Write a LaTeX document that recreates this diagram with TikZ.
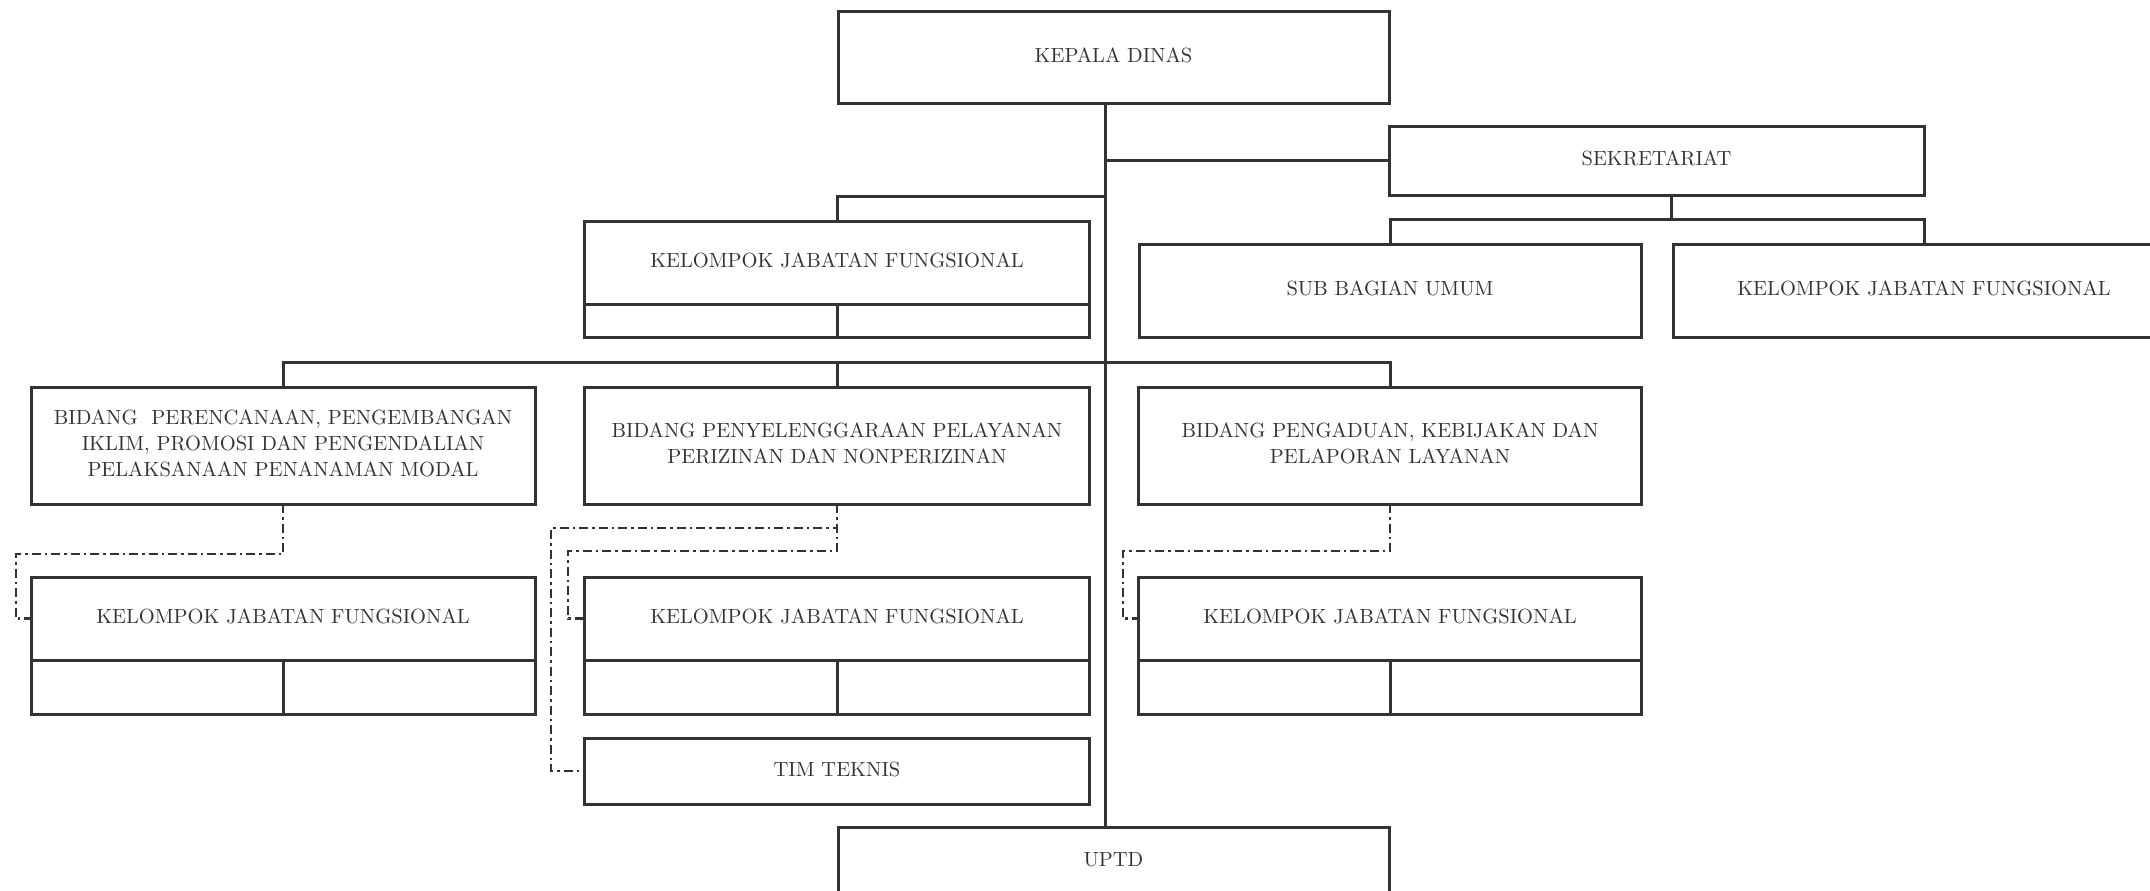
\documentclass[tikz,border=0pt]{standalone}
\definecolor{ln}{HTML}{333333}
\newcommand{\bt}[1]{\scalebox{2.05}{\fontsize{10}{12.7}\selectfont\begin{tabular}{@{}c@{}}#1\end{tabular}}}
\begin{document}
\begin{tikzpicture}[x=1pt,y=-1pt,
  box/.style={draw=ln, line width=3pt, rectangle, inner sep=0pt, outer sep=0pt,
    align=center, text=ln},
  conn/.style={draw=ln, line width=3pt},
  dd/.style={draw=ln, line width=2.8pt, dash pattern=on 9pt off 4pt on 2.5pt off 4pt}]
\useasboundingbox (0,0) rectangle (2150,891);
% top
\node[box, minimum width=551pt, minimum height=91pt] (kd) at (1113.5,57.5) {\bt{KEPALA DINAS}};
\node[box, minimum width=535pt, minimum height=69pt] (sek) at (1656.5,160.5) {\bt{SEKRETARIAT}};
\node[box, minimum width=502pt, minimum height=93pt] (sbu) at (1390,290.5) {\bt{SUB BAGIAN UMUM}};
\node[box, minimum width=502pt, minimum height=93pt] (kjfs) at (1924,290.5) {\bt{KELOMPOK JABATAN FUNGSIONAL}};
\node[box, minimum width=505pt, minimum height=83pt] (k0) at (837,262.5) {\bt{KELOMPOK JABATAN FUNGSIONAL}};
\node[box, minimum width=505pt, minimum height=33pt] (k0b) at (837,320.5) {};
% bidang
\node[box, minimum width=504pt, minimum height=117pt] (b1) at (283,445.5) {\bt{BIDANG\ \ PERENCANAAN, PENGEMBANGAN\\IKLIM, PROMOSI DAN PENGENDALIAN\\PELAKSANAAN PENANAMAN MODAL}};
\node[box, minimum width=505pt, minimum height=117pt] (b2) at (837,445.5) {\bt{BIDANG PENYELENGGARAAN PELAYANAN\\PERIZINAN DAN NONPERIZINAN}};
\node[box, minimum width=503pt, minimum height=117pt] (b3) at (1390,445.5) {\bt{BIDANG PENGADUAN, KEBIJAKAN DAN\\PELAPORAN LAYANAN}};
% kjf under bidang
\node[box, minimum width=504pt, minimum height=83pt] (k1) at (283,618.5) {\bt{KELOMPOK JABATAN FUNGSIONAL}};
\node[box, minimum width=504pt, minimum height=54pt] (k1b) at (283,687) {};
\node[box, minimum width=505pt, minimum height=83pt] (k2) at (837,618.5) {\bt{KELOMPOK JABATAN FUNGSIONAL}};
\node[box, minimum width=505pt, minimum height=54pt] (k2b) at (837,687) {};
\node[box, minimum width=503pt, minimum height=83pt] (k3) at (1390,618.5) {\bt{KELOMPOK JABATAN FUNGSIONAL}};
\node[box, minimum width=503pt, minimum height=54pt] (k3b) at (1390,687) {};
\node[box, minimum width=505pt, minimum height=66pt] (tt) at (837,771) {\bt{TIM TEKNIS}};
\node[box, minimum width=551pt, minimum height=68pt] (uptd) at (1113.5,861) {\bt{UPTD}};
% coordinates
\coordinate (tx) at (1105,0);
\coordinate (c0) at (1105,196);
\coordinate (bus) at (1105,362);
\coordinate (sbus) at (1671,219);
\coordinate (d1) at (16,554);
\coordinate (d2) at (568,551);
\coordinate (d2b) at (551,528);
\coordinate (d3) at (1123,551);
% solid connectors
\draw[conn] (kd.south -| tx) -- (uptd.north -| tx);
\draw[conn] (sek.west) -- (sek.west -| tx);
\draw[conn] (sek.south -| sbus) -- (sbus);
\draw[conn] (sbu.north) |- (sbus) -| (kjfs.north);
\draw[conn] (k0.north) |- (c0);
\draw[conn] (b1.north) |- (bus);
\draw[conn] (b2.north) -- (b2.north |- bus);
\draw[conn] (b3.north) |- (bus);
\draw[conn] (k0b.north) -- (k0b.south);
\draw[conn] (k1b.north) -- (k1b.south);
\draw[conn] (k2b.north) -- (k2b.south);
\draw[conn] (k3b.north) -- (k3b.south);
% dash-dot connectors
\draw[dd] (b1.south) |- (d1) |- (k1.west);
\draw[dd] (b2.south) |- (d2) |- (k2.west);
\draw[dd] (b2.south) |- (d2b) |- (tt.west);
\draw[dd] (b3.south) |- (d3) |- (k3.west);
\end{tikzpicture}
\end{document}
